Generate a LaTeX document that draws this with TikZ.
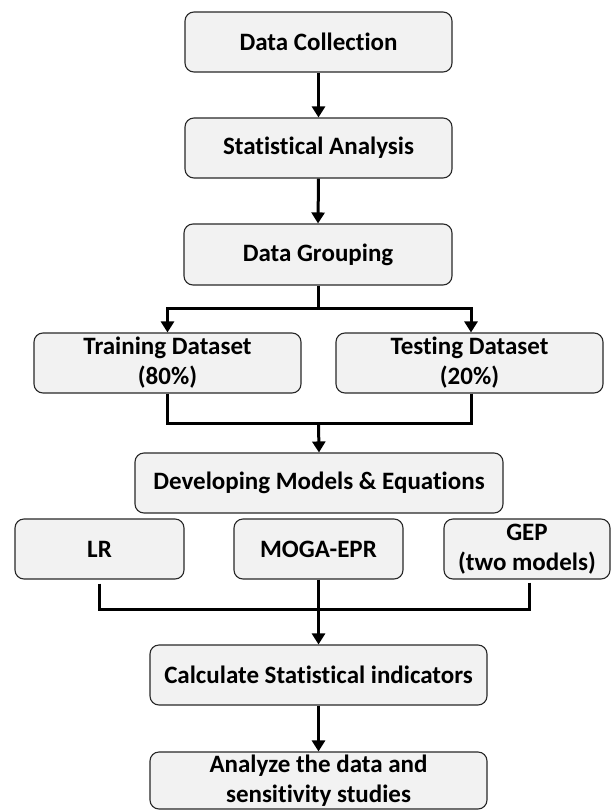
\documentclass[tikz,border=0pt]{standalone}
\usepackage{fontspec}
\setmainfont{Carlito}[Ligatures=NoCommon]
\usetikzlibrary{arrows.meta}
\definecolor{boxfill}{RGB}{242,242,242}
\definecolor{boxline}{RGB}{40,40,40}
\tikzset{
  flowbox/.style={draw=boxline, line width=1.1pt, fill=boxfill, rounded corners=9pt,
    minimum height=60pt, inner sep=0pt, align=center,
    font=\fontsize{25}{30}\selectfont\bfseries},
  link/.style={line width=3pt, black},
  arr/.style={link, -{Triangle[length=11pt,width=13pt]}}
}
\begin{document}
\begin{tikzpicture}[x=1pt,y=-1pt]
\useasboundingbox (0,0) rectangle (612,811);
\node[flowbox, minimum width=267pt] (dc) at (318.5,42) {Data Collection};
\node[flowbox, minimum width=267pt] (sa) at (318.5,148) {Statistical Analysis};
\node[flowbox, minimum width=268pt, minimum height=61pt] (dg) at (318,254.5) {Data Grouping};
\node[flowbox, minimum width=267pt] (tr) at (167.5,363) {Training Dataset\\(80\%)};
\node[flowbox, minimum width=267pt] (te) at (469.5,363) {Testing Dataset\\(20\%)};
\node[flowbox, minimum width=368pt] (dm) at (319,483) {Developing Models \& Equations};
\node[flowbox, minimum width=169pt] (lr) at (99.5,549) {LR};
\node[flowbox, minimum width=169pt] (mo) at (318.5,549) {MOGA-EPR};
\node[flowbox, minimum width=166pt] (gep) at (527,549) {GEP\\(two models)};
\node[flowbox, minimum width=337pt] (cs) at (318.5,675) {Calculate Statistical indicators};
\node[flowbox, minimum width=337pt, minimum height=57pt] (an) at (318.5,780.5) {Analyze the data and\\sensitivity studies};
\coordinate (b1) at (318,308);
\coordinate (m1) at (318.5,423);
\coordinate (m2) at (318.5,609);
\draw[arr] (dc.south) -- (sa.north);
\draw[arr] (sa.south) -- (dg.north);
\draw[link] (dg.south) -- (b1);
\draw[arr] (b1) -| (tr.north);
\draw[arr] (b1) -| ([xshift=1.5pt]te.north);
\draw[link] (tr.south) |- (m1);
\draw[link] ([xshift=1.5pt]te.south) |- (m1);
\draw[arr] (m1) -- (dm.north);
\draw[link] ([yshift=-4pt]lr.south) |- (m2);
\draw[link] ([xshift=2pt,yshift=-3pt]gep.south) |- (m2);
\draw[link] (mo.south) -- (m2);
\draw[arr] (m2) -- (cs.north);
\draw[arr] (cs.south) -- (an.north);
\end{tikzpicture}
\end{document}
